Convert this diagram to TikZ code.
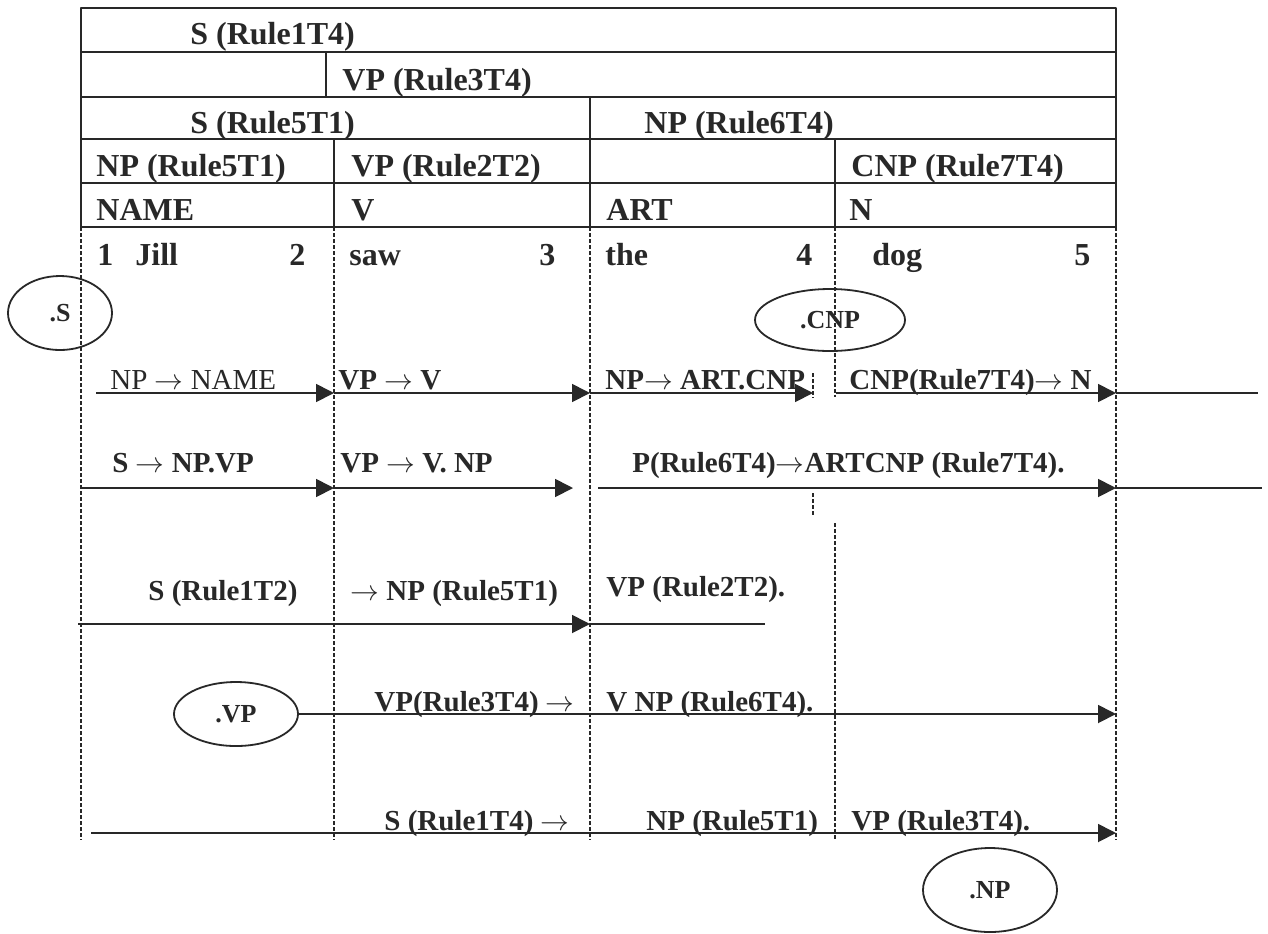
\documentclass[tikz,border=0pt]{standalone}
\usepackage{fontspec}
\setmainfont{Liberation Serif}
\usetikzlibrary{arrows.meta,shapes.geometric}
\definecolor{ink}{HTML}{282828}
\newcommand{\ra}{\ensuremath{\rightarrow}}
\tikzset{
  every picture/.style={line join=round, >={Triangle[length=9pt,width=9pt]}},
  tbl/.style={draw=ink, line width=1pt},
  chart/.style={draw=ink, line width=0.6pt, dash pattern=on 2pt off 1pt},
  arr/.style={draw=ink, line width=0.9pt, ->},
  plain/.style={draw=ink, line width=0.9pt},
  cell/.style={anchor=base west, inner sep=0pt, text=ink, font=\fontsize{16}{19}\selectfont\bfseries},
  rulelbl/.style={cell, font=\fontsize{14.5}{17}\selectfont\bfseries},
  thinlbl/.style={cell, font=\fontsize{14.5}{17}\selectfont},
  dotnode/.style={ellipse, draw=ink, line width=0.9pt, inner sep=0pt, text=ink, font=\fontsize{13}{15}\selectfont\bfseries},
}

\begin{document}
\begin{tikzpicture}[x=0.5pt,y=-0.5pt]
\useasboundingbox[fill=white] (0,0) rectangle (1268,933);

\draw[tbl] (81,8) rectangle (1116,227);
\foreach \y in {52,97,139,183}
  \draw[tbl] (81,\y) -- (1116,\y);
\draw[tbl] (326,52) -- (326,97);
\draw[tbl] (590,97) -- (590,227);
\draw[tbl] (334,139) -- (334,227);
\draw[tbl] (835,139) -- (835,227);

\node[cell] (s14) at (190,44) {S (Rule1T4)};
\node[cell] (vp34) at (342,90) {VP (Rule3T4)};
\node[cell] (s51) at (190,133) {S (Rule5T1)};
\node[cell] (np64) at (644,133) {NP (Rule6T4)};
\node[cell] (np51) at (96,176) {NP (Rule5T1)};
\node[cell] (vp22) at (351,176) {VP (Rule2T2)};
\node[cell] (cnp74) at (851,176) {CNP (Rule7T4)};
\node[cell] (name) at (96,220) {NAME};
\node[cell] (v) at (351,220) {V};
\node[cell] (art) at (606,220) {ART};
\node[cell] (n) at (849,220) {N};
\node[cell] (w1) at (97,265) {1};
\node[cell] (jill) at (135,265) {Jill};
\node[cell] (w2) at (289,265) {2};
\node[cell] (saw) at (349,265) {saw};
\node[cell] (w3) at (539,265) {3};
\node[cell] (the) at (605,265) {the};
\node[cell] (w4) at (796,265) {4};
\node[cell] (dog) at (872,265) {dog};
\node[cell] (w5) at (1074,265) {5};

\foreach \c/\x in {1/81,2/334,3/590,5/1116} {
  \coordinate (top\c) at (\x,227);
  \coordinate (bot\c) at (\x,840);
  \draw[chart] (top\c) -- (bot\c);
}
\coordinate (top4) at (835,227);
\coordinate (bot4) at (835,840);
\draw[chart] (top4) -- (835,397);
\draw[chart] (835,523) -- (bot4);
\draw[chart] (813,373) -- (813,398);
\draw[chart] (813,493) -- (813,515);

\node[dotnode, minimum width=52pt, minimum height=37pt] (dots) at (60,313) {.S};
\node[dotnode, minimum width=75pt, minimum height=31pt] (dotcnp) at (830,320) {.CNP};
\node[dotnode, minimum width=62pt, minimum height=32pt] (dotvp) at (236,714) {.VP};
\node[dotnode, minimum width=67pt, minimum height=42pt] (dotnp) at (990,890) {.NP};

\coordinate (a0) at (96,393);
\coordinate (a2) at (334,393);
\coordinate (a3) at (590,393);
\coordinate (a3b) at (813,393);
\coordinate (a4) at (836,393);
\coordinate (a5) at (1116,393);
\coordinate (a6) at (1258,393);
\draw[arr] (a0) -- (a2);
\draw[arr] (a2) -- (a3);
\draw[arr] (a3) -- (a3b);
\draw[arr] (a4) -- (a5);
\draw[plain] (a5) -- (a6);
\node[thinlbl] (ra1) at (110,389) {NP \ra{} NAME};
\node[rulelbl] (ra2) at (338,389) {VP \ra{} V};
\node[rulelbl] (ra3) at (605,389) {NP\ra{} ART.CNP};
\node[rulelbl] (ra4) at (849,389) {CNP(Rule7T4)\ra{} N};

\coordinate (b0) at (81,488);
\coordinate (b2) at (334,488);
\coordinate (b2b) at (573,488);
\coordinate (b3) at (598,488);
\coordinate (b5) at (1116,488);
\coordinate (b6) at (1262,488);
\draw[arr] (b0) -- (b2);
\draw[arr] (b2) -- (b2b);
\draw[arr] (b3) -- (b5);
\draw[plain] (b5) -- (b6);
\node[rulelbl] (rb1) at (112,472) {S \ra{} NP.VP};
\node[rulelbl] (rb2) at (340,472) {VP \ra{} V. NP};
\node[rulelbl] (rb3) at (632,472) {P(Rule6T4)\ra{}ARTCNP (Rule7T4).};

\coordinate (c0) at (78,624);
\coordinate (c3) at (590,624);
\coordinate (c3b) at (765,624);
\draw[arr] (c0) -- (c3);
\draw[plain] (c3) -- (c3b);
\node[rulelbl] (rc1) at (148,600) {S (Rule1T2)};
\node[rulelbl] (rc2) at (350,600) {\ra{} NP (Rule5T1)};
\node[rulelbl] (rc3) at (606,596) {VP (Rule2T2).};

\coordinate (d5) at (1116,714);
\draw[arr] (dotvp.east) -- (d5);
\node[rulelbl] (rd1) at (374,711) {VP(Rule3T4) \ra};
\node[rulelbl] (rd2) at (606,711) {V NP (Rule6T4).};

\coordinate (e0) at (91,833);
\coordinate (e5) at (1116,833);
\draw[arr] (e0) -- (e5);
\node[rulelbl] (re1) at (384,830) {S (Rule1T4) \ra};
\node[rulelbl] (re2) at (646,830) {NP (Rule5T1)};
\node[rulelbl] (re3) at (851,830) {VP (Rule3T4).};
\end{tikzpicture}
\end{document}
